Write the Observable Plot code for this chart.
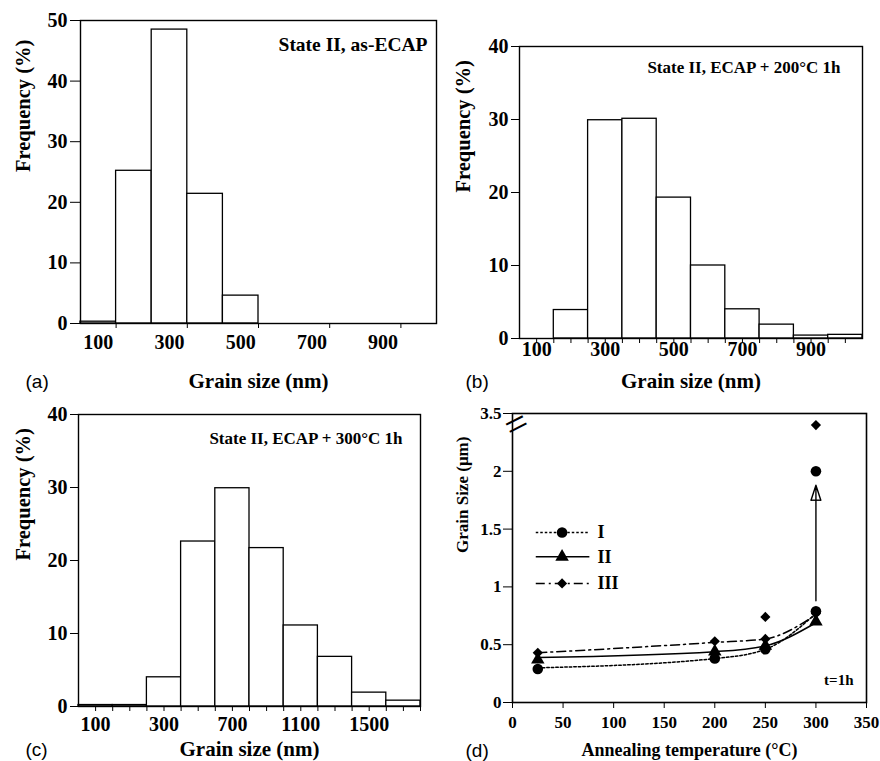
<!DOCTYPE html>
<html><head><meta charset="utf-8">
<script src="https://cdn.jsdelivr.net/npm/d3@7"></script>
<script src="https://cdn.jsdelivr.net/npm/@observablehq/plot@0.6"></script>
<style>
body{margin:0;background:#fff;}
#root{position:relative;width:880px;height:761px;overflow:hidden;background:#fff;}
</style></head><body><div id="root"></div>
<script>
// ---------- data ----------
// (a) State II, as-ECAP
const aBinStart = [50, 150, 250, 350, 450, 550, 650, 750, 850, 950];
const aFreq     = [0.3, 25.2, 48.5, 21.4, 4.6, 0, 0, 0, 0, 0];
const aXLabels  = [100, 300, 500, 700, 900];
const aXMarks   = [150, 350, 550, 750, 950];
const aYTicks   = [0, 10, 20, 30, 40, 50];
// (b) State II, ECAP + 200°C 1h
const bBinStart = [50, 150, 250, 350, 450, 550, 650, 750, 850, 950];
const bFreq     = [0, 3.9, 29.9, 30.1, 19.3, 10.0, 4.0, 1.9, 0.4, 0.5];
const bXLabels  = [100, 300, 500, 700, 900];
const bYTicks   = [0, 10, 20, 30, 40];
// (c) State II, ECAP + 300°C 1h (bins drawn with equal widths)
const cBinCenters = [100, 200, 300, 500, 700, 900, 1100, 1300, 1500, 1700];
const cFreq       = [0.2, 0.2, 4.0, 22.6, 29.9, 21.7, 11.1, 6.8, 1.9, 0.8];
const cXLabels    = [100, 300, 700, 1100, 1500];
const cYTicks     = [0, 10, 20, 30, 40];
// (d) grain size vs annealing temperature
const temps   = [25, 200, 250, 300];
const sizeI   = [0.29, 0.38, 0.46, 0.79];
const sizeII  = [0.37, 0.44, 0.49, 0.70];
const sizeIII = [0.43, 0.53, 0.55, 0.77];
const fitI    = [0.30, 0.38, 0.46, 0.77];
const fitII   = [0.39, 0.44, 0.49, 0.69];
const fitIII  = [0.43, 0.52, 0.55, 0.76];
const extraI   = [{t: 300, s: 2.0}];
const extraIII = [{t: 250, s: 0.74}, {t: 300, s: 3.4}];
const arrowD   = [{t: 300, from: 0.88, to: 1.88}];
const dXTicks  = [0, 50, 100, 150, 200, 250, 300, 350];
const dYTicks  = [0, 0.5, 1, 1.5, 2, 3.5];
const seriesNames = ["I", "II", "III"];

// ---------- helpers ----------
const serif = "'Liberation Serif','Times New Roman',serif";
const sans = "'Liberation Sans',Arial,sans-serif";
const root = document.getElementById("root");
function place(svg, left, top) {
  svg.style.position = "absolute";
  svg.style.left = left + "px";
  svg.style.top = top + "px";
  root.appendChild(svg);
}
const baseStyle = {background: "transparent", overflow: "visible", fontFamily: serif, fontSize: "20px", fontWeight: "bold", color: "black"};
const TICK_FS = 20;

function histPanel({rects, xDomain, yDomain, yTicks, xLabelTicks, xLabelFormat, xMarks, margins, yTickSize, yTickPad, xPad, title, titleFs, titleDx, titleDy, ylabDx, xlabDy, panel, panelDx}) {
  return Plot.plot({
    width: 440, height: 380,
    marginLeft: margins[0], marginRight: margins[1], marginTop: margins[2], marginBottom: margins[3],
    style: baseStyle,
    x: {domain: xDomain},
    y: {domain: yDomain},
    marks: [
      Plot.rectY(rects, {x1: "x1", x2: "x2", y: "y", fill: "white", stroke: "black", strokeWidth: 1.3}),
      Plot.frame({stroke: "black", strokeWidth: 1.4}),
      Plot.axisY({ticks: yTicks, tickSize: yTickSize, tickPadding: yTickPad, label: null, tickFormat: d => String(d), fontSize: TICK_FS, fontWeight: "bold"}),
      Plot.axisX({ticks: xMarks, tickSize: 5, tickFormat: () => "", label: null}),
      Plot.axisX({ticks: xLabelTicks, tickSize: 0, tickPadding: xPad, label: null, tickFormat: xLabelFormat, fontSize: TICK_FS, fontWeight: "bold"}),
      Plot.text([title], {frameAnchor: "top-right", dx: titleDx, dy: titleDy, textAnchor: "end", lineAnchor: "middle", fontSize: titleFs, fontWeight: "bold"}),
      Plot.text(["Frequency (%)"], {frameAnchor: "left", dx: ylabDx, rotate: -90, lineAnchor: "middle", fontSize: 20.5, fontWeight: "bold"}),
      Plot.text(["Grain size (nm)"], {frameAnchor: "bottom", dy: xlabDy, lineAnchor: "middle", fontSize: 21, fontWeight: "bold"}),
      Plot.text([panel], {frameAnchor: "bottom-left", dx: panelDx, dy: xlabDy, lineAnchor: "middle", fontSize: 19, fontWeight: "normal", fontFamily: sans})
    ]
  });
}

// (a)
place(histPanel({
  rects: aBinStart.map((s, i) => ({x1: s, x2: s + 100, y: aFreq[i]})),
  xDomain: [50, 1050], yDomain: [0, 50], yTicks: aYTicks,
  xLabelTicks: aXLabels, xLabelFormat: d => String(d), xMarks: aXMarks,
  margins: [80, 4, 20, 57], yTickSize: 10, yTickPad: 3, xPad: 11,
  title: "State II, as-ECAP", titleFs: 19.5, titleDx: -9, titleDy: 24,
  ylabDx: -57, xlabDy: 58, panel: "(a)", panelDx: -55
}), 0, 0);

// (b)
place(histPanel({
  rects: bBinStart.map((s, i) => ({x1: s, x2: s + 100, y: bFreq[i]})),
  xDomain: [50, 1050], yDomain: [0, 40], yTicks: bYTicks,
  xLabelTicks: bXLabels, xLabelFormat: d => String(d), xMarks: d3.range(100, 1001, 50),
  margins: [79, 18, 46, 42], yTickSize: 8, yTickPad: 3, xPad: 3,
  title: "State II, ECAP + 200°C 1h", titleFs: 17, titleDx: -22, titleDy: 21,
  ylabDx: -56, xlabDy: 43, panel: "(b)", panelDx: -54
}), 440, 0);

// (c)
place(histPanel({
  rects: cBinCenters.map((c, i) => ({x1: i - 0.5, x2: i + 0.5, y: cFreq[i]})),
  xDomain: [-0.5, cBinCenters.length - 0.5], yDomain: [0, 40], yTicks: cYTicks,
  xLabelTicks: cXLabels.map(v => cBinCenters.indexOf(v)), xLabelFormat: i => String(cBinCenters[i]),
  xMarks: d3.range(0, cBinCenters.length - 0.4, 0.5),
  margins: [78, 20, 34, 54], yTickSize: 8, yTickPad: 3, xPad: 10,
  title: "State II, ECAP + 300°C 1h", titleFs: 17, titleDx: -18, titleDy: 24,
  ylabDx: -55, xlabDy: 43, panel: "(c)", panelDx: -53
}), 0, 380);

// (d) — y axis broken above 2: values above the break are shifted down by 1
const BREAK = 2.5, SHIFT = 1;
const fwd = v => (v > BREAK ? v - SHIFT : v);
const toRows = (vals) => temps.map((t, i) => ({t, s: vals[i]}));
const legendY = [1.47, 1.26, 1.03];
const legendRows = seriesNames.map((name, i) => ({name, y: legendY[i], x1: 23, x2: 76, xm: 49, xt: 84}));
const dashes = ["2.5,2", null, "9,4,2,4"];
const symbols = ["circle", "triangle", "diamond2"];
const radii = [5.3, 5, 4.6];

const dPlot = Plot.plot({
  width: 440, height: 380,
  marginLeft: 72, marginRight: 14, marginTop: 33, marginBottom: 58,
  style: {...baseStyle, fontSize: "17px"},
  x: {domain: [0, 350]},
  y: {domain: [0, 2.5], transform: fwd},
  marks: [
    Plot.frame({stroke: "black", strokeWidth: 1.6}),
    Plot.axisY({ticks: dYTicks.map(fwd), tickSize: 9, tickPadding: 2, label: null,
      tickFormat: d => String(dYTicks[dYTicks.map(fwd).indexOf(d)]), fontSize: 17, fontWeight: "bold"}),
    Plot.axisX({ticks: dXTicks, tickSize: 6, tickPadding: 7, label: null, tickFormat: d => String(d), fontSize: 17, fontWeight: "bold"}),
    Plot.text(["="], {frameAnchor: "top-left", dx: -6, dy: 16, rotate: -27, fontSize: 40, fontWeight: "normal", lineAnchor: "middle"}),
    ...[fitI, fitII, fitIII].map((f, i) => Plot.line(toRows(f), {x: "t", y: "s", curve: "monotone-x", stroke: "black", strokeWidth: 1.5, strokeDasharray: dashes[i]})),
    ...[sizeI, sizeII, sizeIII].map((v, i) => Plot.dot(toRows(v), {x: "t", y: "s", symbol: symbols[i], r: radii[i], fill: "black", stroke: "none"})),
    Plot.dot(extraI, {x: "t", y: "s", symbol: "circle", r: 5.3, fill: "black", stroke: "none"}),
    Plot.dot(extraIII, {x: "t", y: "s", symbol: "diamond2", r: 4.6, fill: "black", stroke: "none"}),
    Plot.arrow(arrowD, {x1: "t", x2: "t", y1: "from", y2: "to", headLength: 17, headAngle: 36, stroke: "black", strokeWidth: 1.4}),
    Plot.link(arrowD, {x1: d => d.t - 5, x2: d => d.t + 5, y1: d => d.to - 0.13, y2: d => d.to - 0.13, stroke: "black", strokeWidth: 1.4}),
    // legend
    ...legendRows.map((r, i) => Plot.link([r], {x1: "x1", x2: "x2", y1: "y", y2: "y", stroke: "black", strokeWidth: 1.5, strokeDasharray: dashes[i]})),
    ...legendRows.map((r, i) => Plot.dot([r], {x: "xm", y: "y", symbol: symbols[i], r: radii[i], fill: "black", stroke: "none"})),
    Plot.text(legendRows, {x: "xt", y: "y", text: "name", textAnchor: "start", lineAnchor: "middle", fontSize: 18, fontWeight: "bold"}),
    Plot.text(["t=1h"], {frameAnchor: "bottom-right", dx: -13, dy: -22, textAnchor: "end", lineAnchor: "middle", fontSize: 15, fontWeight: "bold"}),
    Plot.text(["Grain Size (μm)"], {frameAnchor: "left", dx: -50, dy: -5, rotate: -90, lineAnchor: "middle", fontSize: 17, fontWeight: "bold"}),
    Plot.text(["Annealing temperature (°C)"], {frameAnchor: "bottom", dy: 48, lineAnchor: "middle", fontSize: 18, fontWeight: "bold"}),
    Plot.text(["(d)"], {frameAnchor: "bottom-left", dx: -47, dy: 48, lineAnchor: "middle", fontSize: 19, fontWeight: "normal", fontFamily: sans})
  ]
});
place(dPlot, 440, 380);
</script>
</body></html>
